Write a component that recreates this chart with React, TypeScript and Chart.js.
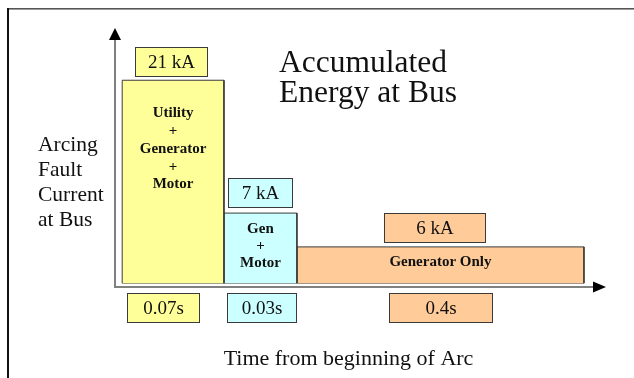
import React, { useEffect, useRef } from "react";
import { Chart, registerables } from "chart.js";

Chart.register(...registerables);

// ---- data (schematic step chart) ----
const segmentLines = [["Utility", "+", "Generator", "+", "Motor"], ["Gen", "+", "Motor"], ["Generator Only"]];
const segmentStart = [1.5, 22.7, 37.9];
const segmentEnd = [22.7, 37.9, 97.7];
const drawnLevel = [21, 7.25, 3.75];
const currentLabels = ["21 kA", "7 kA", "6 kA"];
const durationLabels = ["0.07s", "0.03s", "0.4s"];
const titleLines = ["Accumulated", "Energy at Bus"];
const yLabelLines = ["Arcing", "Fault", "Current", "at Bus"];
const xLabel = "Time from beginning of Arc";

// ---- styles ----
const fillColors = ["#FFFF99", "#CCFFFF", "#FFCC99"];
const valueBoxW = [72, 64, 101];
const valueBoxDx = [-2, 0, -5.5];
const valueBoxGap = [4, 6, 5];
const timeBoxW = [72, 69, 103];
const timeBoxDx = [-10, 1, 0.5];
const SERIF = '"Liberation Serif", "Times New Roman", serif';

const overlayPlugin = {
  id: "overlay",
  beforeDraw(chart: any) {
    const ctx = chart.ctx;
    ctx.save();
    ctx.fillStyle = "#ffffff";
    ctx.fillRect(0, 0, chart.width, chart.height);
    // frame
    ctx.fillStyle = "#555555";
    ctx.fillRect(7, 8, chart.width - 7, 1);
    ctx.fillStyle = "#9a9a9a";
    ctx.fillRect(7, 9, chart.width - 7, 1);
    ctx.fillStyle = "#111111";
    ctx.fillRect(7, 8, 2, chart.height - 8);
    ctx.restore();
  },
  afterDatasetsDraw(chart: any) {
    const ctx = chart.ctx;
    const ca = chart.chartArea;
    const xs = chart.scales.x;
    const ys = chart.scales.y;
    ctx.save();
    // axes
    ctx.fillStyle = "#808080";
    ctx.fillRect(ca.left - 1, ca.top + 9, 2, ca.bottom - ca.top - 8);
    ctx.fillRect(ca.left - 1, ca.bottom - 1, ca.right - ca.left - 1, 2);
    ctx.fillStyle = "#000000";
    ctx.beginPath();
    ctx.moveTo(ca.left - 6, ca.top + 10);
    ctx.lineTo(ca.left, ca.top - 2);
    ctx.lineTo(ca.left + 6, ca.top + 10);
    ctx.closePath();
    ctx.fill();
    ctx.beginPath();
    ctx.moveTo(ca.right - 2, ca.bottom - 5.5);
    ctx.lineTo(ca.right + 11, ca.bottom);
    ctx.lineTo(ca.right - 2, ca.bottom + 5.5);
    ctx.closePath();
    ctx.fill();

    // labels inside bars
    ctx.fillStyle = "#111111";
    ctx.textAlign = "center";
    ctx.textBaseline = "alphabetic";
    ctx.font = "bold 15px " + SERIF;
    const innerBase = [117.3, 232.7, 265.7];
    const innerStep = [17.75, 17.3, 0];
    segmentLines.forEach((lines, i) => {
      const cx = (xs.getPixelForValue(segmentStart[i]) + xs.getPixelForValue(segmentEnd[i])) / 2;
      lines.forEach((t, j) => {
        ctx.fillText(t, cx, innerBase[i] + j * innerStep[i]);
      });
    });

    // value boxes and time boxes
    const box = (cx: number, top: number, w: number, color: string, text: string) => {
      const h = 29;
      const x = Math.round(cx - w / 2) + 0.5;
      const y = Math.round(top) + 0.5;
      ctx.fillStyle = color;
      ctx.fillRect(x, y, w, h);
      ctx.strokeStyle = "#3a3a3a";
      ctx.lineWidth = 1;
      ctx.strokeRect(x, y, w, h);
      ctx.fillStyle = "#111111";
      ctx.font = "19px " + SERIF;
      ctx.textAlign = "center";
      ctx.textBaseline = "middle";
      ctx.fillText(text, x + w / 2, y + h / 2 + 1);
    };
    currentLabels.forEach((t, i) => {
      const cx = (xs.getPixelForValue(segmentStart[i]) + xs.getPixelForValue(segmentEnd[i])) / 2 + valueBoxDx[i];
      const topPx = ys.getPixelForValue(drawnLevel[i]);
      box(cx, topPx - valueBoxGap[i] - 29, valueBoxW[i], fillColors[i], t);
    });
    durationLabels.forEach((t, i) => {
      const cx = (xs.getPixelForValue(segmentStart[i]) + xs.getPixelForValue(segmentEnd[i])) / 2 + timeBoxDx[i];
      box(cx, ca.bottom + 6, timeBoxW[i], fillColors[i], t);
    });

    // title
    ctx.fillStyle = "#111111";
    ctx.textAlign = "left";
    ctx.textBaseline = "alphabetic";
    ctx.font = "31.5px " + SERIF;
    titleLines.forEach((t, i) => ctx.fillText(t, 279, 72 + i * 30));

    // y label
    ctx.font = "21.5px " + SERIF;
    yLabelLines.forEach((t, i) => ctx.fillText(t, 38, 150.5 + i * 25));

    // x label
    ctx.textAlign = "center";
    ctx.font = "22px " + SERIF;
    ctx.fillText(xLabel, 348.5, 365);
    ctx.restore();
  },
};

export default function App() {
  const ref = useRef<HTMLCanvasElement | null>(null);
  useEffect(() => {
    if (!ref.current) return;
    const datasets: any[] = segmentStart.map((s, i) => ({
      label: segmentLines[i].join(" "),
      data: [
        { x: s, y: 0 },
        { x: s, y: drawnLevel[i] },
        { x: segmentEnd[i], y: drawnLevel[i] },
        { x: segmentEnd[i], y: 0 },
      ],
      showLine: true,
      fill: "origin",
      backgroundColor: fillColors[i],
      borderColor: "#3a3a3a",
      borderWidth: 1,
      pointRadius: 0,
      tension: 0,
    }));
    datasets.push({
      label: "base",
      data: [
        { x: segmentStart[0], y: 0 },
        { x: segmentEnd[segmentEnd.length - 1], y: 0 },
      ],
      showLine: true,
      fill: false,
      borderColor: "#3a3a3a",
      borderWidth: 1,
      pointRadius: 0,
    });
    const chart = new Chart(ref.current, {
      type: "scatter",
      data: { datasets },
      options: {
        animation: false,
        responsive: false,
        layout: { padding: { left: 115, right: 39, top: 30, bottom: 91 } },
        scales: {
          x: { type: "linear", min: 0, max: 100, display: false },
          y: { type: "linear", min: -0.4, max: 26.2, display: false },
        },
        plugins: { legend: { display: false }, tooltip: { enabled: false }, title: { display: false } },
      },
      plugins: [overlayPlugin],
    });
    return () => chart.destroy();
  }, []);
  return (
    <div style={{ position: "fixed", left: 0, top: 0, width: 634, height: 378 }}>
      <canvas ref={ref} width={634} height={378} style={{ display: "block" }} />
    </div>
  );
}
